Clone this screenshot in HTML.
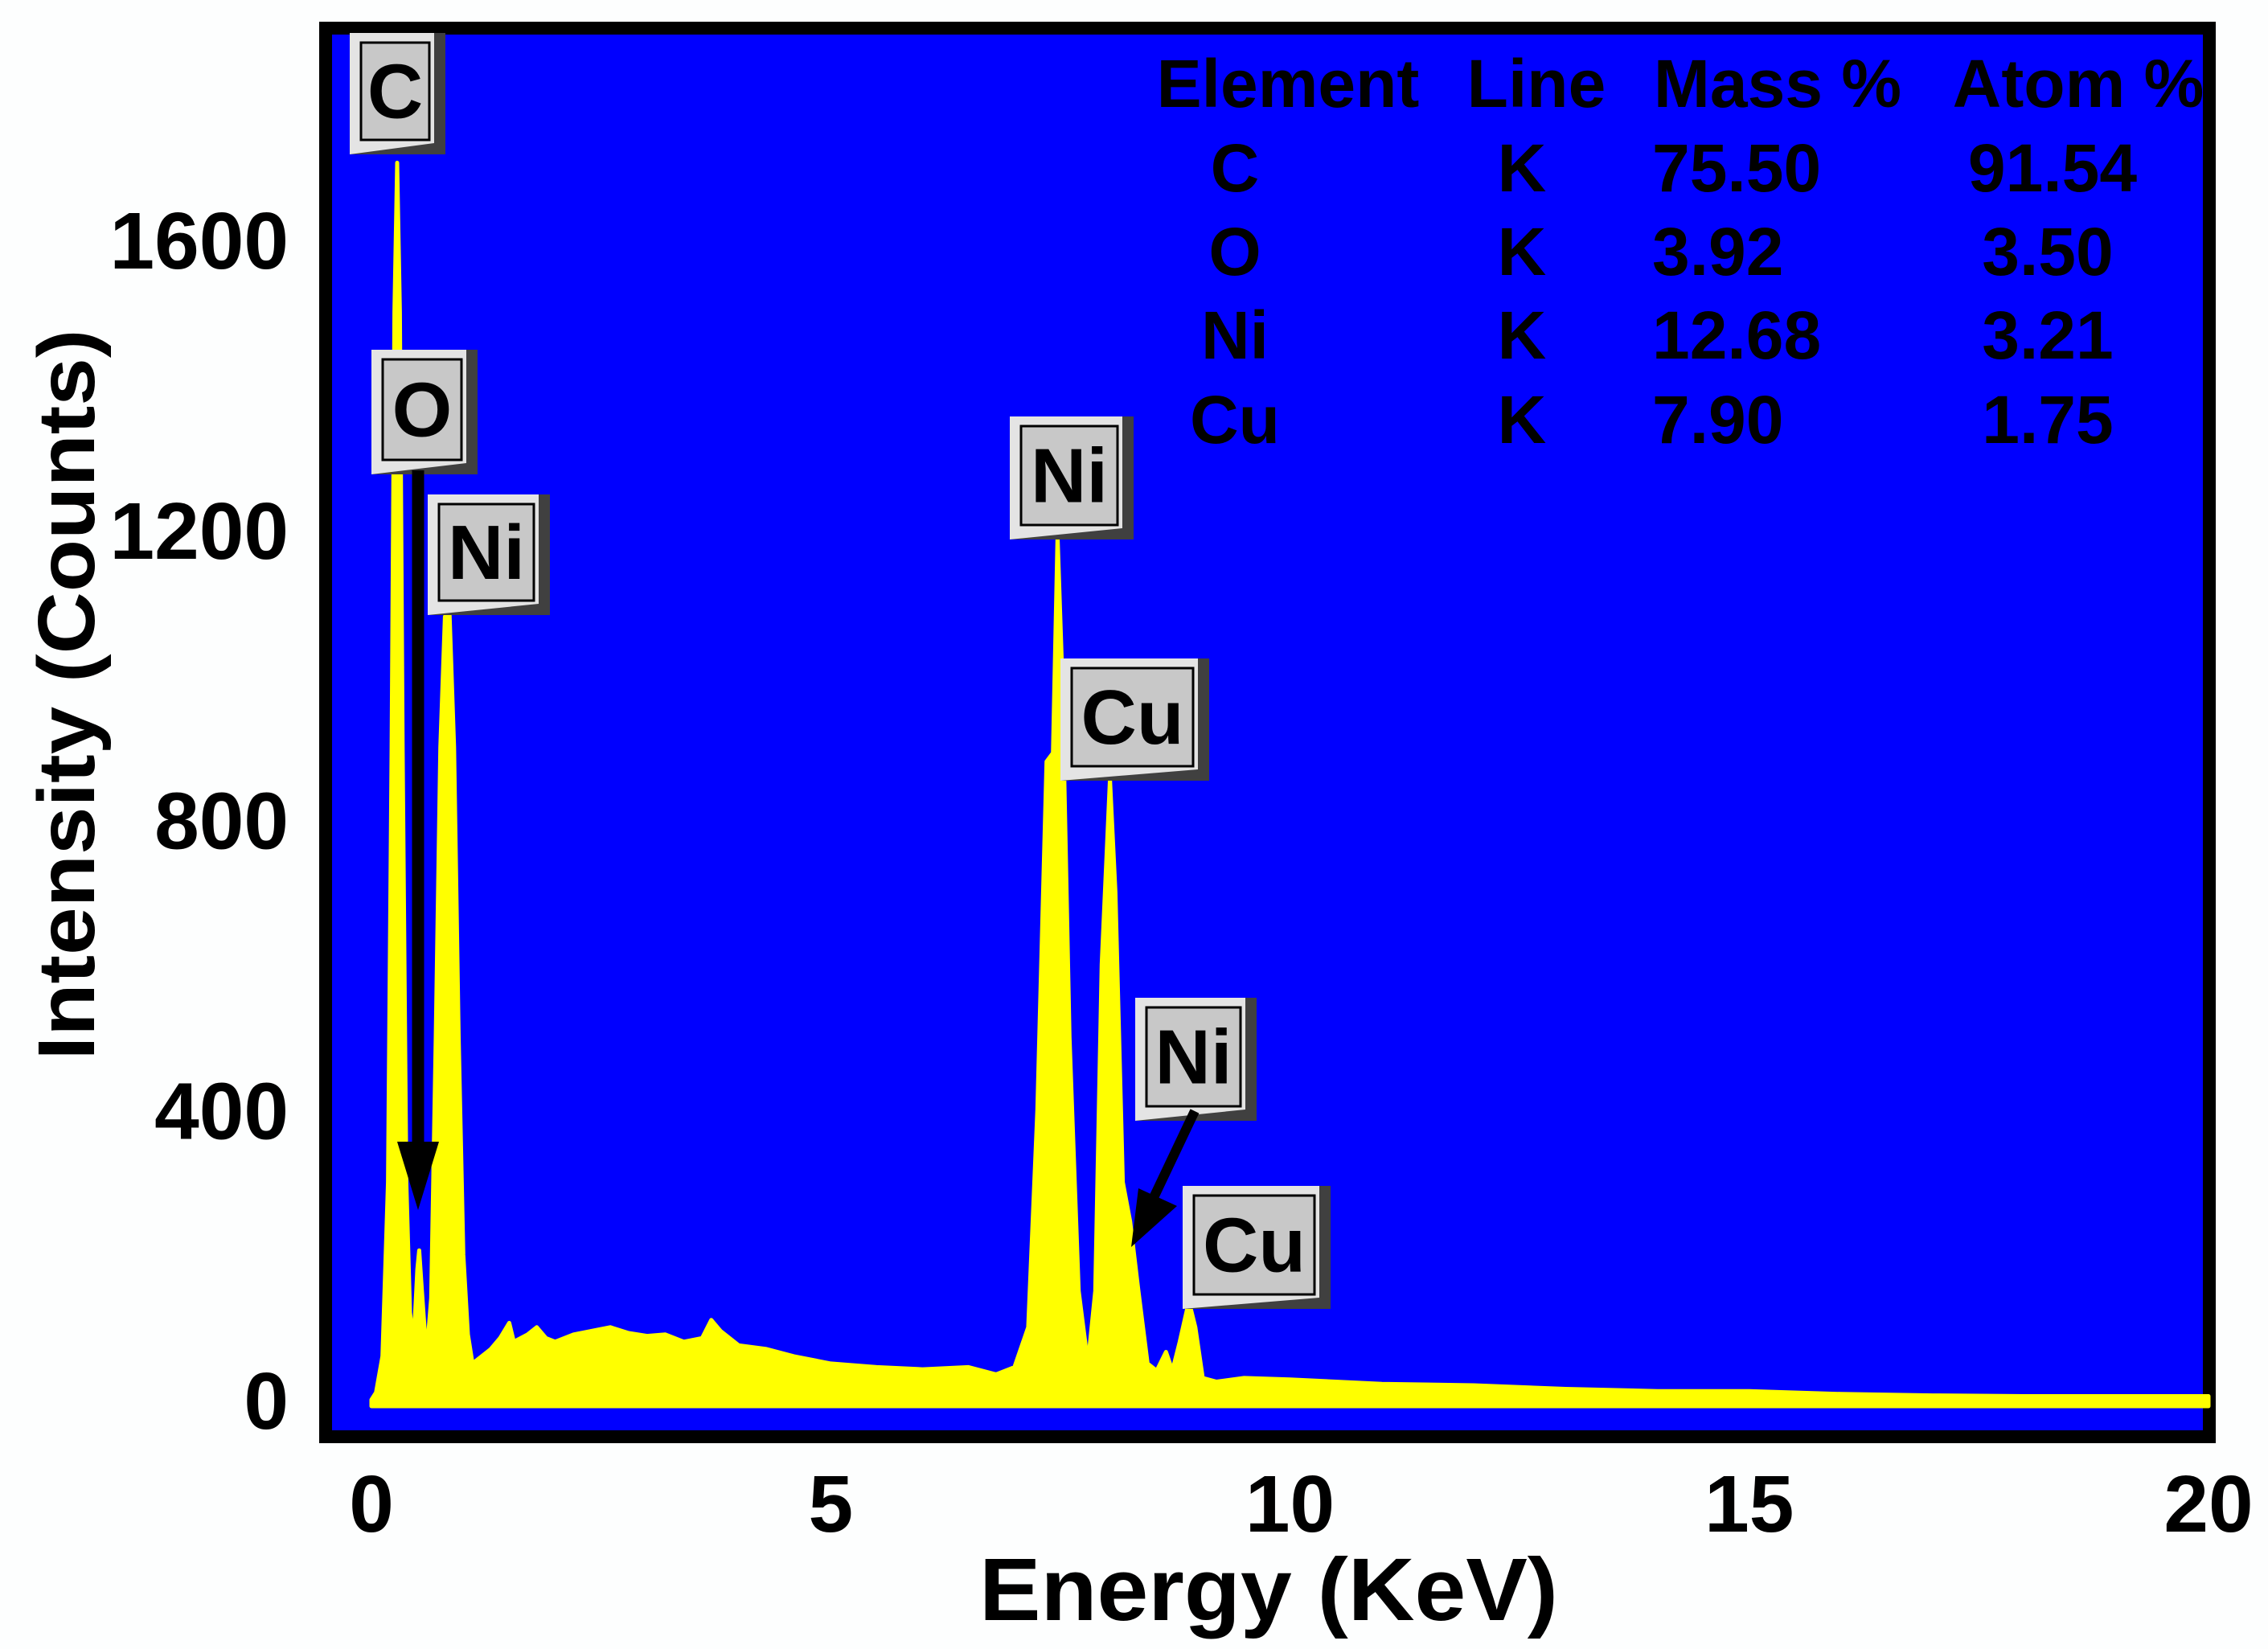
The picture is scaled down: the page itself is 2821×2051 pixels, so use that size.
<!DOCTYPE html>
<html><head><meta charset="utf-8"><style>
html,body{margin:0;padding:0;background:#fff;}
svg{display:block;}
text{font-family:"Liberation Sans",Arial,sans-serif;font-weight:bold;fill:#000;}
</style></head><body>
<svg id="chart" width="2821" height="2051" viewBox="0 0 2821 2051" xmlns="http://www.w3.org/2000/svg">
<rect x="0" y="0" width="2821" height="2051" fill="#fdfefe"/>
<rect x="405" y="35" width="2343" height="1752" fill="#0000ff" stroke="#000" stroke-width="16"/>
<g id="spectrum"></g>
<g id="yticks"></g>
<g id="xticks"></g>
<text x="1578" y="2015" font-size="110" text-anchor="middle" textLength="720" lengthAdjust="spacingAndGlyphs">Energy (KeV)</text>
<text transform="translate(117,864) rotate(-90)" font-size="100" text-anchor="middle" textLength="909" lengthAdjust="spacingAndGlyphs">Intensity (Counts)</text>
<g id="table"></g>
<g id="labels"></g>
<g>
<line x1="520" y1="585" x2="520" y2="1430" stroke="#000" stroke-width="15"/>
<polygon points="494,1420 546,1420 520,1505" fill="#000"/>
</g>
<g>
<line x1="1486" y1="1382" x2="1430" y2="1500" stroke="#000" stroke-width="12"/>
<polygon points="1407,1551 1416,1478 1464,1500" fill="#000"/>
</g>
</svg>
<script>
const energy = [0,0.05,0.12,0.18,0.22,0.25,0.28,0.31,0.34,0.38,0.42,0.46,0.5,0.52,0.55,0.6,0.65,0.7,0.75,0.8,0.85,0.9,0.95,1.0,1.05,1.1,1.2,1.3,1.4,1.5,1.55,1.7,1.8,1.9,2.0,2.2,2.4,2.6,2.8,3.0,3.2,3.4,3.6,3.7,3.8,4.0,4.3,4.6,5.0,5.5,6.0,6.5,6.8,7.0,7.15,7.25,7.35,7.42,7.47,7.52,7.6,7.7,7.8,7.88,7.95,8.04,8.1,8.18,8.26,8.35,8.45,8.55,8.65,8.72,8.8,8.9,8.97,9.05,9.2,9.5,10,10.5,11,12,13,14,15,16,17,18,19,20];
const counts = [0,10,60,300,900,1500,1706,1500,900,300,120,80,180,206,150,60,140,500,900,1080,1086,900,500,200,90,50,60,70,85,106,80,90,100,85,80,90,95,100,92,88,90,80,85,110,95,75,70,60,50,45,42,45,35,45,100,400,880,892,1192,1000,500,150,50,150,600,856,700,300,246,150,50,40,66,40,80,136,100,30,25,30,28,25,22,20,15,12,12,8,6,5,5,5];
const yTicks = [0,400,800,1200,1600];
const xTicks = [0,5,10,15,20];
const tableHeader = ["Element","Line","Mass %","Atom %"];
const tableElements = ["C","O","Ni","Cu"];
const tableLines = ["K","K","K","K"];
const tableMass = ["75.50","3.92","12.68","7.90"];
const tableAtom = ["91.54","3.50","3.21","1.75"];
const peakLabels = ["C","O","Ni","Ni","Cu","Ni","Cu"];
const NS="http://www.w3.org/2000/svg";
const X0=462,X1=2747,Y0=1741,Y1=298;
function xs(e){return X0+(e-0)/(20-0)*(X1-X0);}
function ys(c){return Y0-(c/1600)*(Y0-Y1);}
function mk(tag,attrs,parent){const el=document.createElementNS(NS,tag);for(const k in attrs)el.setAttribute(k,attrs[k]);parent.appendChild(el);return el;}
const sp=document.getElementById('spectrum');
let pts=[xs(energy[0])+','+(Y0+8)];
for(let i=0;i<energy.length;i++)pts.push(xs(energy[i]).toFixed(1)+','+ys(counts[i]).toFixed(1));
pts.push(xs(energy[energy.length-1])+','+(Y0+8));
const poly=mk('polygon',{points:pts.join(' '),fill:'#ffff00',stroke:'#ffff00','stroke-width':'5','stroke-linejoin':'round'},sp);


const yt=document.getElementById('yticks');
yTicks.forEach(v=>{const t=mk('text',{x:359,y:ys(v)+36,'font-size':100,'text-anchor':'end'},yt);t.textContent=v;

});
const xt=document.getElementById('xticks');
xTicks.forEach(v=>{const t=mk('text',{x:xs(v),y:1905,'font-size':100,'text-anchor':'middle'},xt);t.textContent=v;

});
const tb=document.getElementById('table');
const hx=[1602,1911,2211,2585];
const rowY=[104,209,313,417,522];
tableHeader.forEach((h,i)=>{const t=mk('text',{x:hx[i],y:rowY[0]+29,'font-size':84,'text-anchor':'middle'},tb);t.textContent=h;

});
for(let r=0;r<4;r++){
 const y=rowY[r+1]+29;
 let t=mk('text',{x:1536,y:y,'font-size':84,'text-anchor':'middle'},tb);t.textContent=tableElements[r];
 
 
 t=mk('text',{x:1893,y:y,'font-size':84,'text-anchor':'middle'},tb);t.textContent=tableLines[r];
 
 
 t=mk('text',{x:2055,y:y,'font-size':84,'text-anchor':'start'},tb);t.textContent=tableMass[r];
 
 
 t=mk('text',{x:r===0?2553:2547,y:y,'font-size':84,'text-anchor':'middle'},tb);t.textContent=tableAtom[r];
 
 
}
const boxes=[[435,41,119,151],[462,435,132,155],[532,615,152,150],[1256,518,154,153],[1319,819,185,152],[1412,1241,151,153],[1471,1475,184,153]];
const lg=document.getElementById('labels');
boxes.forEach((b,i)=>{
 const [x,y,w,h]=b;const g=mk('g',{},lg);
 
 
 mk('rect',{x:x,y:y,width:w,height:h,fill:'#404040'},g);
 mk('polygon',{points:`${x},${y} ${x+w-14},${y} ${x+w-14},${y+h-14} ${x},${y+h}`,fill:'#e4e4e4'},g);
 mk('rect',{x:x+14,y:y+12,width:w-34,height:h-30,fill:'#c8c8c8',stroke:'#000','stroke-width':3},g);
 const t=mk('text',{x:x+w/2-3,y:y+h/2+30,'font-size':96,'text-anchor':'middle'},g);t.textContent=peakLabels[i];
});
</script>
</body></html>
